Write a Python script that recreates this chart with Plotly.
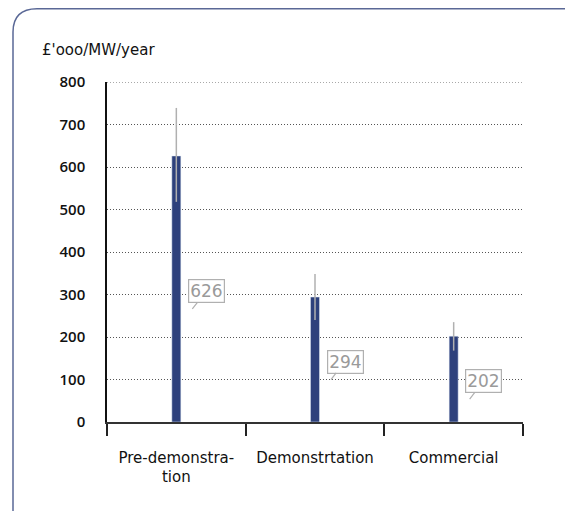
import plotly.graph_objects as go

categories = ["Pre-demonstra-<br>tion", "Demonstrtation", "Commercial"]
values = [626, 294, 202]
err_plus = [113, 54, 33]
err_minus = [108, 54, 34]
y_ticks = [0, 100, 200, 300, 400, 500, 600, 700, 800]
y_title = "£'ooo/MW/year"

font_family = "DejaVu Sans, sans-serif"
bar_color = "#2e417c"

# page body has an 8px margin; figure is sized so the plot lands where the reference has it
W, H = 565, 503
pl, pr, pt, pb = 99, 50, 74, 89
pw, ph = W - pl - pr, H - pt - pb


def px(x):
    return (x - pl) / pw


def py(y):
    return (H - pb - y) / ph


fig = go.Figure()
fig.add_trace(go.Bar(
    x=categories, y=values, marker_color=bar_color, width=0.065,
    error_y=dict(type="data", symmetric=False, array=err_plus, arrayminus=err_minus,
                 color="#b0b0b0", thickness=1.5, width=0),
    hoverinfo="skip",
))

for c, v in zip(categories, values):
    fig.add_annotation(
        x=c, y=v / 2, xref="x", yref="y", text=str(v),
        showarrow=True, arrowhead=0, arrowwidth=1.2, arrowcolor="#b0b0b0",
        ax=14, ay=-18, standoff=0, xshift=16, yshift=-20,
        font=dict(family=font_family, size=17, color="#9a9a9a"),
        bordercolor="#b0b0b0", borderwidth=1.2, borderpad=1, bgcolor="white",
    )

fig.add_annotation(
    x=px(32), y=py(42), xref="paper", yref="paper", xanchor="left", yanchor="middle",
    text=y_title, showarrow=False,
    font=dict(family=font_family, size=15, color="#111"),
)

# top dotted gridline at the axis maximum
fig.add_hline(y=y_ticks[-1], line=dict(color="#555", width=1, dash="1px,2px"), layer="below")

# rounded frame around the chart
fig.add_shape(
    type="path", xref="paper", yref="paper", layer="below",
    path=f"M {px(5)} {py(520)} L {px(5)} {py(24)} Q {px(5)} {py(0.8)} {px(29)} {py(0.8)} L {px(580)} {py(0.8)}",
    line=dict(color="#5a6896", width=1.5),
)

fig.update_layout(
    width=W, height=H,
    margin=dict(l=pl, r=pr, t=pt, b=pb),
    paper_bgcolor="white", plot_bgcolor="white",
    showlegend=False,
    font=dict(family=font_family, size=13, color="#111"),
    xaxis=dict(
        showline=True, linecolor="#333", linewidth=1.5,
        ticks="outside", tickson="boundaries", ticklen=12, tickcolor="#222", tickwidth=1.5,
        ticklabelstandoff=21,
        showgrid=False, tickfont=dict(size=15), fixedrange=True,
    ),
    yaxis=dict(
        range=[0, 800], tickvals=y_ticks, showline=True, linecolor="#111", linewidth=1.5,
        showgrid=True, gridcolor="#555", griddash="1px,2px", gridwidth=1,
        zeroline=False, ticks="", ticklabelstandoff=17,
        tickfont=dict(family="Open Sans, DejaVu Sans, sans-serif", size=15, color="#111", weight=600),
        fixedrange=True,
    ),
)

fig.write_html("out.html")
